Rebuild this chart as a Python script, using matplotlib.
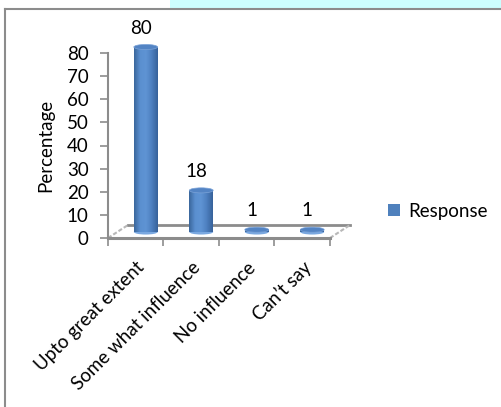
import matplotlib
matplotlib.use("Agg")
import matplotlib.pyplot as plt
import numpy as np
from matplotlib import transforms
from matplotlib.patches import Rectangle, Ellipse, Patch
from matplotlib.colors import LinearSegmentedColormap

categories = ["Upto great extent", "Some what influence", "No influence", "Can\u2019t say"]
values = [80, 18, 1, 1]
yticks = [0, 10, 20, 30, 40, 50, 60, 70, 80]
series_name = "Response"

W, H = 502, 407
FS = 13.5
plt.rcParams['font.family'] = ['Lato', 'DejaVu Sans']
fig = plt.figure(figsize=(W / 100, H / 100), dpi=100)

# background decorations
fig.patches.append(Rectangle((170 / W, 1 - 8 / H), 1, 8 / H, transform=fig.transFigure,
                             facecolor='#CCFFFF', edgecolor='none', zorder=0))
fig.lines.append(plt.Line2D([5 / W, 1], [1 - 9 / H, 1 - 9 / H], transform=fig.transFigure,
                            color='#8c8c8c', lw=1.5))
fig.lines.append(plt.Line2D([5 / W, 5 / W], [0, 1 - 9 / H], transform=fig.transFigure,
                            color='#8c8c8c', lw=1.5))

left, right, bottom, top = 108, 330, 238, 53
ax = fig.add_axes([left / W, 1 - bottom / H, (right - left) / W, (bottom - top) / H])
ax.set_xlim(-0.5, len(categories) - 0.5)
ax.set_ylim(0, 80)
ax.patch.set_alpha(0)
for s in ['top', 'right']:
    ax.spines[s].set_visible(False)
ax.spines['left'].set_color('#8c8c8c')
ax.spines['left'].set_linewidth(1.5)
ax.spines['bottom'].set_color('#8c8c8c')
ax.spines['bottom'].set_linewidth(2.2)

ax.set_yticks(yticks)
ax.tick_params(axis='y', length=6, width=1.2, color='#8c8c8c', pad=8, labelsize=FS)
x = np.arange(len(categories))
ax.set_xticks(x)
ax.set_xticklabels(categories, rotation=45, ha='right', va='top', rotation_mode='anchor', fontsize=FS)
ax.tick_params(axis='x', length=0, pad=15)
ax.set_xticks(np.arange(len(categories) + 1) - 0.5, minor=True)
ax.tick_params(axis='x', which='minor', length=6, width=1.2, color='#8c8c8c')
ax.set_ylabel("Percentage", fontsize=FS, labelpad=9)

# floor (3D depth)
depth = transforms.offset_copy(ax.transData, fig=fig, x=20, y=13, units='dots')
x0, x1 = -0.5, len(categories) - 0.5
ax.plot([x0, x1], [0, 0], transform=depth, color='#8c8c8c', lw=2, clip_on=False)
inv = ax.transData.inverted()
for xx in (x0, x1):
    p0 = ax.transData.transform((xx, 0))
    p1 = p0 + np.array([20, 13])
    q0, q1 = inv.transform(p0), inv.transform(p1)
    ax.plot([q0[0], q1[0]], [q0[1], q1[1]], color='#b8b8b8', lw=1.5, ls=(0, (2, 1)), clip_on=False)

# cylinders
mid = transforms.offset_copy(ax.transData, fig=fig, x=10, y=6, units='dots')
cmap = LinearSegmentedColormap.from_list('cyl', ['#3b679c', '#5a8fd0', '#5f94d4', '#4d7fbf', '#37629a'])
grad = np.linspace(0, 1, 64).reshape(1, -1)
bw = 0.43
ell_h = 2.2
for xi, v in zip(x, values):
    ax.imshow(grad, extent=(xi - bw / 2, xi + bw / 2, 0, v), transform=mid, cmap=cmap,
              aspect='auto', clip_on=False, zorder=3, interpolation='bilinear')
    ax.add_patch(Ellipse((xi, 0), bw, ell_h, transform=mid, facecolor='#7aa8e0',
                         edgecolor='none', zorder=2, clip_on=False))
    ax.add_patch(Ellipse((xi, v), bw, ell_h, transform=mid, facecolor='#5384c4',
                         edgecolor='#7ba3d8', lw=0.5, zorder=4, clip_on=False))
    ax.annotate(str(v), (xi, v), xytext=(5, 25), textcoords='offset pixels',
                ha='center', va='center', fontsize=FS, annotation_clip=False)
ax.set_xlim(-0.5, len(categories) - 0.5)
ax.set_ylim(0, 80)

fig.legend(handles=[Patch(facecolor='#4f81bd', edgecolor='none', label=series_name)],
           loc='center left', bbox_to_anchor=(388 / W, 1 - 211 / H), frameon=False,
           borderpad=0, borderaxespad=0,
           fontsize=FS, handlelength=0.65, handleheight=0.65, handletextpad=0.45)

fig.savefig("out.png", dpi=100)
